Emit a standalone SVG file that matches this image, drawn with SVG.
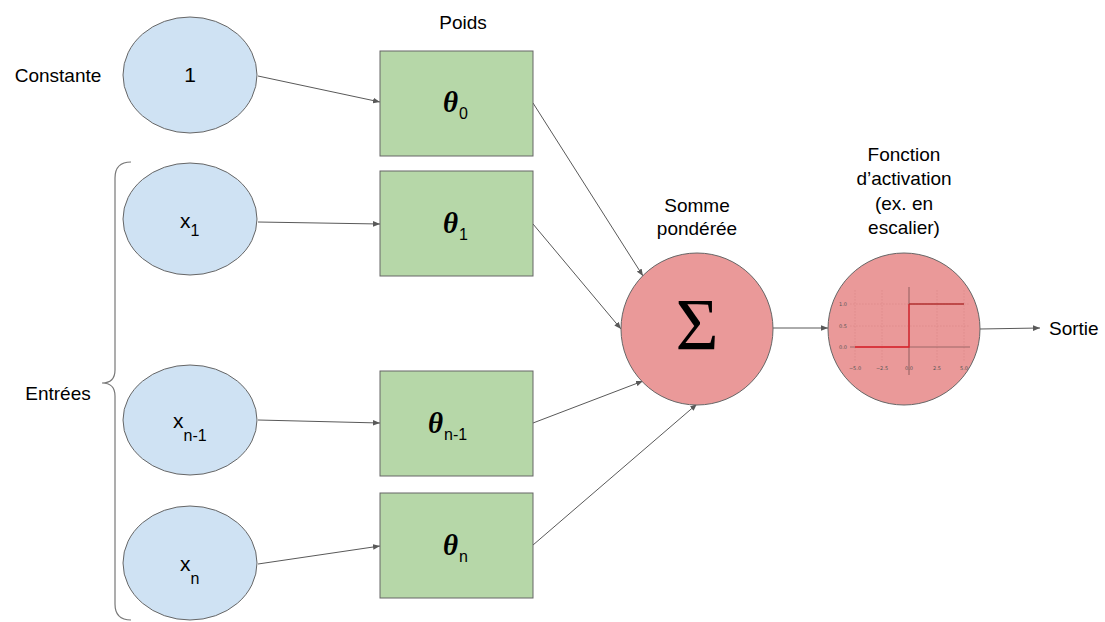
<svg xmlns="http://www.w3.org/2000/svg" width="1105" height="622" viewBox="0 0 1105 622">
  <style>
    .lbl { font-family: "Liberation Sans", Arial, sans-serif; font-size: 19px; fill: #000; }
    .inp { fill: #cfe2f3; stroke: #666; stroke-width: 1; }
    .w { fill: #b6d7a8; stroke: #666; stroke-width: 1; }
    .neu { fill: #ea9999; stroke: #666; stroke-width: 1; }
    .edge { stroke: #595959; stroke-width: 1; fill: none; marker-end: url(#arr); }
    .th { font-family: "Liberation Serif", "Times New Roman", serif; font-style: italic; font-weight: bold; font-size: 29px; }
    .sub { font-family: "Liberation Sans", Arial, sans-serif; font-size: 16px; font-style: normal; font-weight: normal; }
    .xv { font-family: "Liberation Sans", Arial, sans-serif; font-size: 21px; }
    .tick { font-family: "DejaVu Sans", sans-serif; font-size: 5px; fill: #555; }
    .grid { stroke: #c77; stroke-width: 0.5; stroke-dasharray: 1.5 1.5; opacity: 0.6; }
  </style>
  <defs>
    <marker id="arr" viewBox="0 0 10 10" refX="10" refY="5" markerWidth="7" markerHeight="7" orient="auto" markerUnits="userSpaceOnUse">
      <path d="M0,1 L10,5 L0,9 Z" fill="#595959"/>
    </marker>
  </defs>

  <rect width="1105" height="622" fill="#fff"/>

  <!-- side labels -->
  <text class="lbl" x="58" y="82" text-anchor="middle">Constante</text>
  <text class="lbl" x="58" y="400" text-anchor="middle">Entrées</text>
  <text class="lbl" x="463" y="29" text-anchor="middle">Poids</text>
  <text class="lbl" x="697" y="212" text-anchor="middle">Somme</text>
  <text class="lbl" x="697" y="235" text-anchor="middle">pondérée</text>
  <text class="lbl" x="904" y="161" text-anchor="middle">Fonction</text>
  <text class="lbl" x="904" y="185" text-anchor="middle">d’activation</text>
  <text class="lbl" x="904" y="210" text-anchor="middle">(ex. en</text>
  <text class="lbl" x="904" y="234" text-anchor="middle">escalier)</text>
  <text class="lbl" x="1049" y="335">Sortie</text>

  <!-- brace grouping the inputs -->
  <path d="M131,162 Q115,162 115,178 L115,370 Q115,383 102,383 Q115,383 115,396 L115,604 Q115,620 131,620" fill="none" stroke="#777" stroke-width="1.2"/>

  <!-- connectors -->
  <g id="connectors">
    <line class="edge" x1="258" y1="76" x2="380" y2="102"/>
    <line class="edge" x1="258" y1="222" x2="380" y2="224"/>
    <line class="edge" x1="258" y1="420" x2="380" y2="423"/>
    <line class="edge" x1="258" y1="564" x2="380" y2="546"/>
    <line class="edge" x1="533" y1="103" x2="643" y2="276"/>
    <line class="edge" x1="533" y1="224" x2="621" y2="329"/>
    <line class="edge" x1="533" y1="423" x2="643" y2="381"/>
    <line class="edge" x1="533" y1="545" x2="697" y2="404"/>
    <line class="edge" x1="773" y1="328" x2="828" y2="328"/>
    <line class="edge" x1="980" y1="329" x2="1040" y2="328"/>
  </g>

  <!-- inputs -->
  <g id="in-const">
    <ellipse class="inp" cx="190" cy="75" rx="67" ry="58"/>
    <text class="xv" x="190" y="82" text-anchor="middle">1</text>
  </g>
  <g id="in-x1">
    <ellipse class="inp" cx="190" cy="219" rx="67" ry="56"/>
    <text class="xv" x="180" y="228">x<tspan class="sub" dy="8">1</tspan></text>
  </g>
  <g id="in-xn1">
    <ellipse class="inp" cx="190" cy="420" rx="67" ry="55"/>
    <text class="xv" x="173" y="428">x<tspan class="sub" dy="13">n-1</tspan></text>
  </g>
  <g id="in-xn">
    <ellipse class="inp" cx="190" cy="563" rx="67" ry="57"/>
    <text class="xv" x="180" y="571">x<tspan class="sub" dy="13">n</tspan></text>
  </g>

  <!-- weights -->
  <g id="w0">
    <rect class="w" x="380" y="51" width="153" height="105"/>
    <text class="th" x="443" y="112">θ<tspan class="sub" dx="1" dy="7">0</tspan></text>
  </g>
  <g id="w1">
    <rect class="w" x="380" y="171" width="153" height="105"/>
    <text class="th" x="443" y="233">θ<tspan class="sub" dx="1" dy="7">1</tspan></text>
  </g>
  <g id="wn1">
    <rect class="w" x="380" y="371" width="153" height="105"/>
    <text class="th" x="428" y="433">θ<tspan class="sub" dx="1" dy="7">n-1</tspan></text>
  </g>
  <g id="wn">
    <rect class="w" x="380" y="493" width="153" height="105"/>
    <text class="th" x="443" y="555">θ<tspan class="sub" dx="1" dy="7">n</tspan></text>
  </g>

  <!-- weighted sum -->
  <g id="sum">
    <circle class="neu" cx="697" cy="329" r="76"/>
    <text x="697" y="350" text-anchor="middle" font-family="Liberation Serif, 'Times New Roman', serif" font-size="74">Σ</text>
  </g>

  <!-- activation: step function plot -->
  <g id="activation">
    <circle class="neu" cx="904" cy="329" r="76"/>
    <line class="grid" x1="855" y1="290" x2="855" y2="362"/>
    <line class="grid" x1="882" y1="290" x2="882" y2="362"/>
    <line class="grid" x1="937" y1="290" x2="937" y2="362"/>
    <line class="grid" x1="964" y1="290" x2="964" y2="362"/>
    <line class="grid" x1="850" y1="304" x2="969" y2="304"/>
    <line class="grid" x1="850" y1="326" x2="969" y2="326"/>
    <line x1="909" y1="287" x2="909" y2="375" stroke="#a06868" stroke-width="1.5" opacity="0.8"/>
    <line x1="850" y1="347" x2="970" y2="347" stroke="#8a5a5a" stroke-width="0.8"/>
    <polyline points="855,347 909,347 909,304" fill="none" stroke="#e0202a" stroke-width="1.3"/>
    <line x1="909" y1="304" x2="964" y2="304" stroke="#b03030" stroke-width="1.3"/>
    <text class="tick" x="847" y="306" text-anchor="end">1.0</text>
    <text class="tick" x="847" y="328" text-anchor="end">0.5</text>
    <text class="tick" x="847" y="349" text-anchor="end">0.0</text>
    <text class="tick" x="855" y="370" text-anchor="middle">−5.0</text>
    <text class="tick" x="882" y="370" text-anchor="middle">−2.5</text>
    <text class="tick" x="909" y="370" text-anchor="middle">0.0</text>
    <text class="tick" x="937" y="370" text-anchor="middle">2.5</text>
    <text class="tick" x="964" y="370" text-anchor="middle">5.0</text>
  </g>
</svg>
